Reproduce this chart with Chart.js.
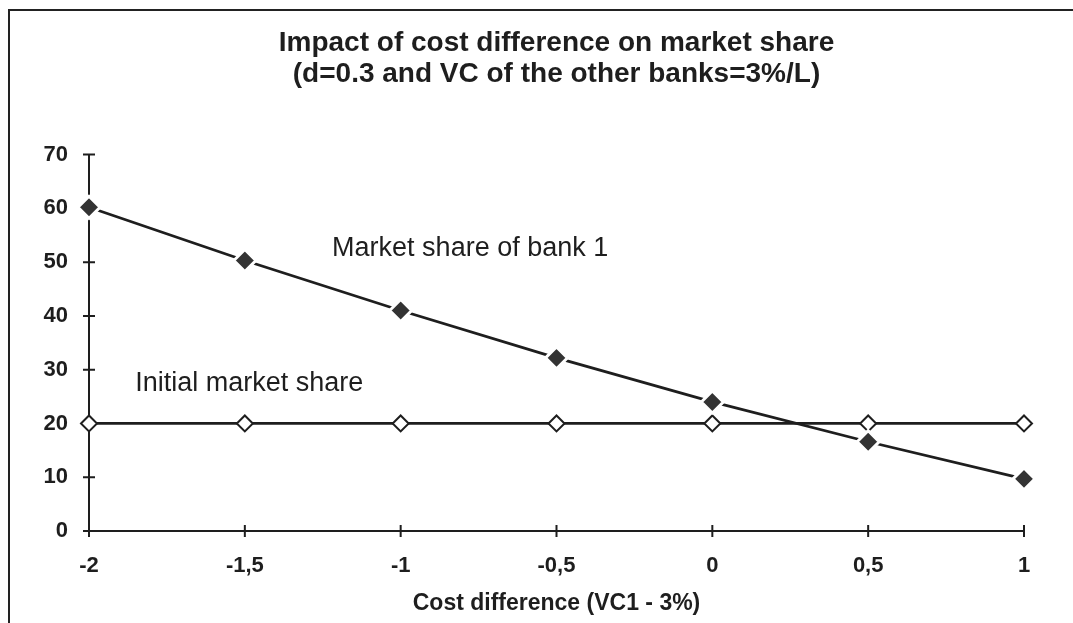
<!DOCTYPE html>
<html>
<head>
<meta charset="utf-8">
<script src="https://cdn.jsdelivr.net/npm/chart.js@4.4.1/dist/chart.umd.min.js"></script>
<style>
  html, body { margin: 0; padding: 0; background: #fff; }
  #wrap { position: relative; width: 1073px; height: 623px; }
  #frame { position: absolute; left: 8px; top: 9px; right: 0; bottom: 0; border-top: 2px solid #222; border-left: 2px solid #222; pointer-events: none; }
  canvas { position: absolute; left: 0; top: 0; }
</style>
</head>
<body>
<div id="wrap">
  <canvas id="c" width="1073" height="623"></canvas>
  <div id="frame"></div>
</div>
<script>
// ---- data ----
const costDifference = [-2, -1.5, -1, -0.5, 0, 0.5, 1];
const marketShareBank1 = [60.2, 50.3, 41.0, 32.2, 24.0, 16.6, 9.7];
const initialMarketShare = [20, 20, 20, 20, 20, 20, 20];
const yTicks = [0, 10, 20, 30, 40, 50, 60, 70];
const titleLines = ['Impact of cost difference on market share', '(d=0.3 and VC of the other banks=3%/L)'];
const xAxisTitle = 'Cost difference (VC1 - 3%)';
const seriesNames = ['Market share of bank 1', 'Initial market share'];

const toPoints = (ys) => costDifference.map((x, i) => ({ x: x, y: ys[i] }));
const fmt = (v) => String(v).replace('.', ',');

const INK = '#1e1e1e';
const FONT = '"Liberation Sans", Arial, sans-serif';

// axes with crossing tick marks + inline series labels
const axesPlugin = {
  id: 'axesPlugin',
  beforeDatasetsDraw(chart) {
    const { ctx, chartArea: a, scales: { x, y } } = chart;
    ctx.save();
    ctx.strokeStyle = INK;
    ctx.lineWidth = 2;
    ctx.beginPath();
    ctx.moveTo(a.left, a.top);
    ctx.lineTo(a.left, a.bottom);
    ctx.moveTo(a.left, a.bottom);
    ctx.lineTo(a.right, a.bottom);
    const t = 6;
    y.ticks.forEach(tk => {
      const py = y.getPixelForValue(tk.value);
      ctx.moveTo(a.left - t, py);
      ctx.lineTo(a.left + t, py);
    });
    x.ticks.forEach(tk => {
      const px = x.getPixelForValue(tk.value);
      ctx.moveTo(px, a.bottom - t);
      ctx.lineTo(px, a.bottom + t);
    });
    ctx.stroke();
    ctx.restore();
  },
  afterDatasetsDraw(chart, args, opts) {
    const { ctx, scales: { x, y } } = chart;
    ctx.save();
    ctx.fillStyle = INK;
    ctx.font = '27px ' + FONT;
    ctx.textBaseline = 'middle';
    ctx.textAlign = 'left';
    (opts.labels || []).forEach(l => {
      ctx.fillText(l.text, x.getPixelForValue(l.x), y.getPixelForValue(l.y));
    });
    ctx.restore();
  }
};

new Chart(document.getElementById('c'), {
  type: 'line',
  data: {
    datasets: [
      {
        label: seriesNames[0],
        data: toPoints(marketShareBank1),
        borderColor: INK,
        borderWidth: 2.8,
        pointStyle: 'rectRot',
        pointRadius: 11,
        pointBackgroundColor: '#333',
        pointBorderColor: '#fff',
        pointBorderWidth: 3,
        tension: 0,
        fill: false
      },
      {
        label: seriesNames[1],
        data: toPoints(initialMarketShare),
        borderColor: INK,
        borderWidth: 2.8,
        pointStyle: 'rectRot',
        pointRadius: 8,
        pointBackgroundColor: '#fff',
        pointBorderColor: INK,
        pointBorderWidth: 2,
        tension: 0,
        fill: false
      }
    ]
  },
  options: {
    responsive: false,
    animation: false,
    clip: false,
    layout: { padding: { left: 9, right: 49, top: 0, bottom: 0 } },
    plugins: {
      legend: { display: false },
      tooltip: { enabled: false },
      title: {
        display: true,
        fullSize: false,
        text: titleLines,
        color: INK,
        font: { family: FONT, size: 28, weight: 'bold', lineHeight: 1.1 },
        padding: { top: 28, bottom: 65 }
      },
      axesPlugin: {
        labels: [
          { text: seriesNames[0], x: -1.22, y: 52.5 },
          { text: seriesNames[1], x: -1.852, y: 27.5 }
        ]
      }
    },
    scales: {
      x: {
        type: 'linear',
        min: -2,
        max: 1,
        afterBuildTicks: (s) => { s.ticks = costDifference.map(v => ({ value: v })); },
        afterFit: (s) => { s.height = 92; },
        ticks: {
          callback: (v) => fmt(v),
          color: INK,
          padding: 22,
          maxRotation: 0,
          font: { family: FONT, size: 22, weight: 'bold' }
        },
        grid: { display: false, drawTicks: false },
        border: { display: false },
        title: {
          display: true,
          text: xAxisTitle,
          color: INK,
          padding: { top: 11, bottom: 6 },
          font: { family: FONT, size: 23, weight: 'bold' }
        }
      },
      y: {
        min: 0,
        max: 70,
        afterBuildTicks: (s) => { s.ticks = yTicks.map(v => ({ value: v })); },
        afterFit: (s) => { s.width = 80; },
        ticks: {
          color: INK,
          padding: 21,
          font: { family: FONT, size: 22, weight: 'bold' }
        },
        grid: { display: false, drawTicks: false },
        border: { display: false }
      }
    }
  },
  plugins: [axesPlugin]
});
</script>
</body>
</html>
